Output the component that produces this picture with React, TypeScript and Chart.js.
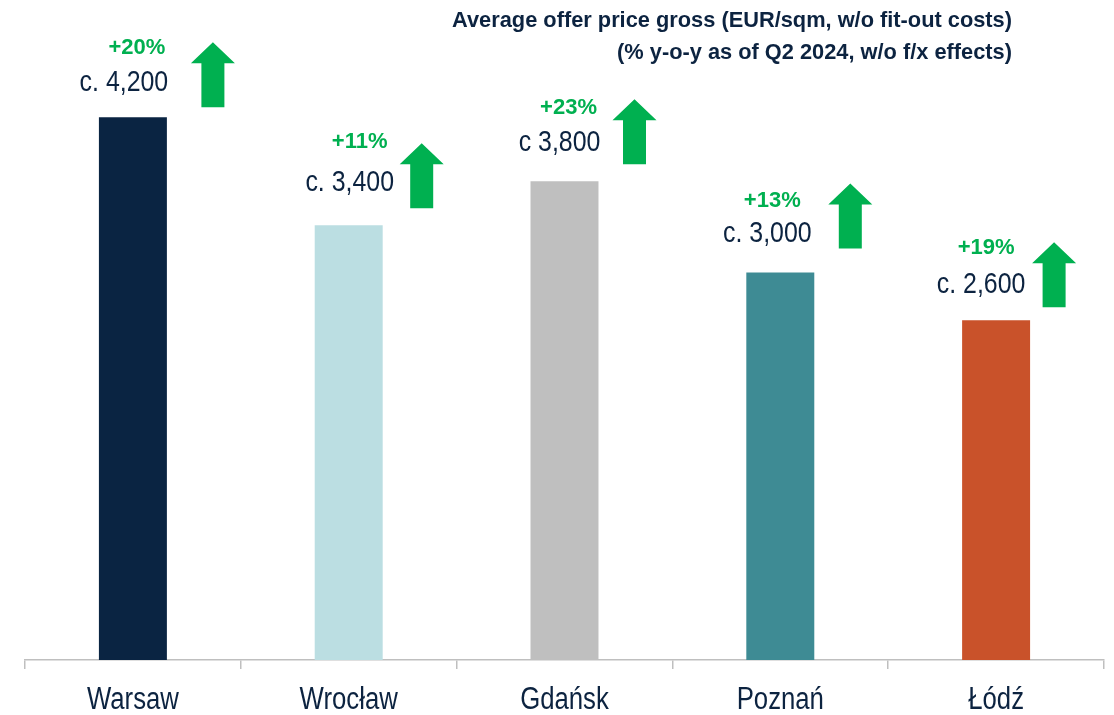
import React, { useEffect, useRef } from "react";
import { Chart, registerables } from "chart.js";

Chart.register(...registerables);

const cities = ["Warsaw", "Wrocław", "Gdańsk", "Poznań", "Łódź"];
const prices = [4200, 3365, 3705, 3000, 2630];
const priceLabels = ["c. 4,200", "c. 3,400", "c 3,800", "c. 3,000", "c. 2,600"];
const yoyLabels = ["+20%", "+11%", "+23%", "+13%", "+19%"];
const barColors = ["#0A2442", "#BBDEE2", "#BFBFBF", "#3E8B94", "#C9522A"];
const titleLines = [
  "Average offer price gross (EUR/sqm, w/o fit-out costs)",
  "(% y-o-y as of Q2 2024, w/o f/x effects)",
];

// annotation placement relative to each bar (centre x, top y)
const annotLayout = [
  { tx: -9, ty: -35, px: 4, py: -69, ax: 80, aTop: -75, aBot: -10 },
  { tx: 1, ty: -43, px: 11, py: -83, ax: 73, aTop: -82, aBot: -17 },
  { tx: -5, ty: -39, px: 4, py: -73, ax: 70, aTop: -82, aBot: -17 },
  { tx: -13, ty: -39, px: -8, py: -71, ax: 70, aTop: -89, aBot: -24 },
  { tx: -15, ty: -35, px: -10, py: -72, ax: 58, aTop: -78, aBot: -13 },
];

const NAVY = "#0C2340";
const GREEN = "#00B050";
const NARROW = '"Liberation Sans Narrow", "Arial Narrow", "Liberation Sans", Arial, sans-serif';
const WIDE = '"Liberation Sans", Arial, sans-serif';

function narrowScale(ctx: CanvasRenderingContext2D, size: number): number {
  ctx.save();
  ctx.font = `${size}px ${NARROW}`;
  const a = ctx.measureText("Warsaw 4,200").width;
  ctx.font = `${size}px ${WIDE}`;
  const b = ctx.measureText("Warsaw 4,200").width;
  ctx.restore();
  return a / b > 0.92 ? 0.83 : 1;
}

function narrowText(
  ctx: CanvasRenderingContext2D,
  text: string,
  x: number,
  y: number,
  size: number,
  color: string,
  baseline: CanvasTextBaseline
) {
  const sx = narrowScale(ctx, size);
  ctx.save();
  ctx.fillStyle = color;
  ctx.font = `${size}px ${NARROW}`;
  ctx.textAlign = "center";
  ctx.textBaseline = baseline;
  ctx.translate(x, y);
  ctx.scale(sx, 1);
  ctx.fillText(text, 0, 0);
  ctx.restore();
}

const annotPlugin = {
  id: "annot",
  afterDraw(chart: any) {
    const ctx: CanvasRenderingContext2D = chart.ctx;
    const meta = chart.getDatasetMeta(0);
    meta.data.forEach((bar: any, i: number) => {
      const L = annotLayout[i];
      const cx = bar.x;
      const top = bar.y;
      narrowText(ctx, priceLabels[i], cx + L.tx, top + L.ty, 30, NAVY, "middle");
      ctx.save();
      ctx.fillStyle = GREEN;
      ctx.font = `bold 22px ${WIDE}`;
      ctx.textAlign = "center";
      ctx.textBaseline = "middle";
      ctx.fillText(yoyLabels[i], cx + L.px, top + L.py);
      ctx.restore();
      const ax = cx + L.ax;
      const aTop = top + L.aTop;
      const aBot = top + L.aBot;
      const headH = 21;
      const headW = 22;
      const shaftW = 11.5;
      ctx.save();
      ctx.fillStyle = GREEN;
      ctx.beginPath();
      ctx.moveTo(ax, aTop);
      ctx.lineTo(ax + headW, aTop + headH);
      ctx.lineTo(ax + shaftW, aTop + headH);
      ctx.lineTo(ax + shaftW, aBot);
      ctx.lineTo(ax - shaftW, aBot);
      ctx.lineTo(ax - shaftW, aTop + headH);
      ctx.lineTo(ax - headW, aTop + headH);
      ctx.closePath();
      ctx.fill();
      ctx.restore();
    });
    // category labels, placed from the x scale
    const xs = chart.scales.x;
    cities.forEach((c, i) => {
      narrowText(ctx, c, xs.getPixelForValue(i), xs.top + 49, 31, NAVY, "alphabetic");
    });
    // title
    ctx.save();
    ctx.fillStyle = NAVY;
    ctx.font = `bold 21.8px ${WIDE}`;
    ctx.textAlign = "right";
    ctx.textBaseline = "middle";
    ctx.fillText(titleLines[0], 1012, 21);
    ctx.fillText(titleLines[1], 1012, 53);
    ctx.restore();
  },
};

export default function App() {
  const ref = useRef<HTMLCanvasElement | null>(null);
  useEffect(() => {
    if (!ref.current) return;
    const chart = new Chart(ref.current, {
      type: "bar",
      data: {
        labels: cities,
        datasets: [
          {
            data: prices,
            backgroundColor: barColors,
            borderWidth: 0,
            barPercentage: 0.315,
            categoryPercentage: 1,
          },
        ],
      },
      options: {
        responsive: false,
        animation: false,
        layout: { padding: { left: 25, right: 10, top: 14, bottom: 0 } },
        plugins: {
          legend: { display: false },
          tooltip: { enabled: false },
          title: { display: false },
        },
        scales: {
          x: {
            grid: {
              offset: true,
              drawOnChartArea: false,
              drawTicks: true,
              tickLength: 9,
              color: "#BFBFBF",
              lineWidth: 1.5,
            },
            border: { display: true, color: "#BFBFBF", width: 1.5 },
            ticks: {
              color: "rgba(0,0,0,0)",
              font: { family: NARROW, size: 31 },
              padding: 10,
              maxRotation: 0,
            },
            afterFit(scale: any) {
              scale.height = 55;
            },
          },
          y: {
            display: false,
            min: 0,
            max: 5000,
          },
        },
      },
      plugins: [annotPlugin],
    });
    return () => chart.destroy();
  }, []);
  return (
    <>
      <style>{"html,body{margin:0;padding:0;overflow:hidden;}"}</style>
      <canvas ref={ref} width={1114} height={715} style={{ display: "block" }} />
    </>
  );
}
